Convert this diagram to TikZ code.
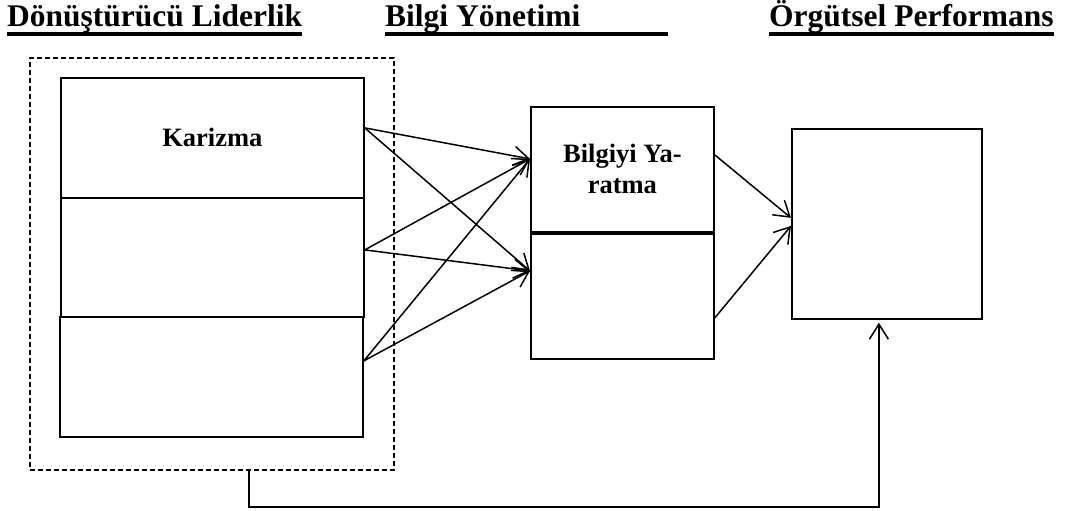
\documentclass[tikz,border=0pt]{standalone}
\usepackage{fontspec}
\setmainfont{Liberation Serif}
\usetikzlibrary{arrows.meta}
\tikzset{
  title/.style={anchor=base west, inner sep=0pt, font=\fontsize{31.5}{37}\selectfont\bfseries},
  uline/.style={line width=3.5pt},
  boxnode/.style={draw, line width=1.8pt, anchor=north west, inner sep=0pt,
    font=\fontsize{26.5}{31}\selectfont\bfseries, align=center},
  dashbox/.style={draw, line width=2.2pt, dash pattern=on 5pt off 3pt, anchor=north west, inner sep=0pt},
  conn/.style={line width=1.5pt, -{Straight Barb[length=15pt,width=19pt]}}
}
\begin{document}
\begin{tikzpicture}[x=1pt, y=-1pt]
\useasboundingbox (0,0) rectangle (1069,511);
% titles
\node[title] (t1) at (7,27) {Dönüştürücü Liderlik};
\node[title] (t2) at (385,27) {Bilgi Yönetimi};
\node[title] (t3) at (769,27) {Örgütsel Performans};
\draw[uline] ([yshift=-7pt]t1.base west) -- ([yshift=-7pt]t1.base east);
\draw[uline] ([yshift=-7pt]t2.base west) -- ++(283,0);
\draw[uline] ([yshift=-7pt]t3.base west) -- ([yshift=-7pt]t3.base east);
% boxes
\node[dashbox, minimum width=364pt, minimum height=412pt] (dl) at (29,57) {};
\node[boxnode, minimum width=303pt, minimum height=120pt] (b1) at (60,77) {Karizma};
\node[boxnode, minimum width=303pt, minimum height=119pt] (b2) at (60,197) {};
\node[boxnode, minimum width=303pt, minimum height=120pt] (b3) at (59,316) {};
\node[boxnode, minimum width=183pt, minimum height=125pt] (m1) at (530,106) {Bilgiyi Ya-\\ratma};
\node[boxnode, minimum width=183pt, minimum height=125pt] (m2) at (530,233) {};
\node[boxnode, minimum width=190pt, minimum height=190pt] (r) at (791,128) {};
% connectors
\draw[conn] ([yshift=10pt]b1.east) -- ([yshift=10.5pt]m1.west);
\draw[conn] ([yshift=10pt]b1.east) -- ([yshift=25.5pt]m2.west);
\draw[conn] ([yshift=7.5pt]b2.east) -- ([yshift=10.5pt]m1.west);
\draw[conn] ([yshift=7.5pt]b2.east) -- ([yshift=25.5pt]m2.west);
\draw[conn] ([yshift=16pt]b3.east) -- ([yshift=10.5pt]m1.west);
\draw[conn] ([yshift=16pt]b3.east) -- ([yshift=25.5pt]m2.west);
\draw[conn] ([yshift=14.5pt]m1.east) -- ([yshift=6pt]r.west);
\draw[conn] ([yshift=-21.5pt]m2.east) -- ([yshift=-2pt]r.west);
\draw[conn] ([xshift=37pt]dl.south) -- ++(0,36) -| ([xshift=-8pt,yshift=-3pt]r.south);
\end{tikzpicture}
\end{document}
